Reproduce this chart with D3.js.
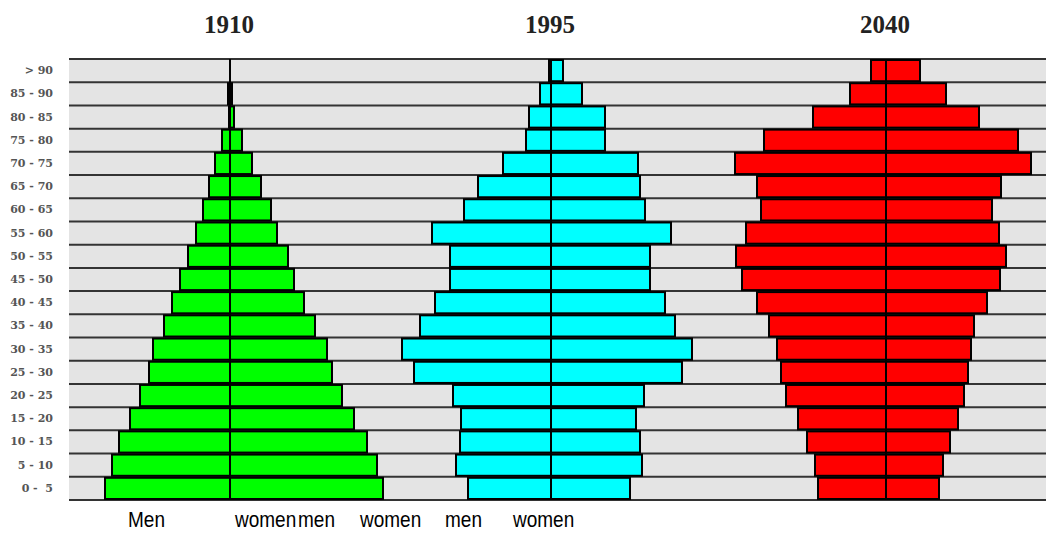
<!DOCTYPE html>
<html>
<head>
<meta charset="utf-8">
<script src="https://cdn.jsdelivr.net/npm/d3@7"></script>
<style>
    body { margin: 0; background: #fff; }
    svg { display: block; }
</style>
</head>
<body>
<div class="div-pyramids"></div>
<script>
// DATA (top row first)

var ages = ["> 90", "85 - 90", "80 - 85", "75 - 80", "70 - 75", "65 - 70", "60 - 65", "55 - 60", "50 - 55",
    "45 - 50", "40 - 45", "35 - 40", "30 - 35", "25 - 30", "20 - 25", "15 - 20", "10 - 15", "5 - 10", "0 -  5"];

var years = ["1910", "1995", "2040"];

var men1910   = [0, 2, 1, 8, 15, 21, 27, 34, 42, 50, 58, 66, 77, 81, 90, 100, 111, 118, 125];
var women1910 = [0, 2, 4, 12, 22, 31, 41, 47, 58, 64, 74, 85, 97, 102, 112, 124, 137, 147, 153];

var men1995   = [2, 11, 22, 25, 48, 73, 87, 119, 101, 101, 116, 131, 149, 137, 98, 90, 91, 95, 83];
var women1995 = [12, 31, 54, 54, 87, 89, 94, 120, 99, 99, 114, 124, 141, 131, 93, 85, 89, 91, 79];

var men2040   = [15, 36, 73, 122, 151, 129, 125, 140, 150, 144, 129, 117, 109, 105, 100, 88, 79, 71, 68];
var women2040 = [34, 60, 93, 132, 145, 115, 106, 113, 120, 114, 101, 88, 85, 82, 78, 72, 64, 57, 53];

var bottomLabels = ["Men", "women", "men", "women", "men", "women"];

// LAYOUT

var width = 1046;
var height = 542;
var top_y = 59, bottom_y = 500;
var bg_left = 69;
var centers = [230, 551, 886];
var colors = ["#00ff00", "#00ffff", "#ff0000"];
var label_x = [128, 235, 298, 360, 445, 513];

var series = [
    { year: years[0], men: men1910, women: women1910 },
    { year: years[1], men: men1995, women: women1995 },
    { year: years[2], men: men2040, women: women2040 }
];

function draw() {

    var svg = d3.select('.div-pyramids').append('svg')
        .attr('width', width)
        .attr('height', height);

    var y_scale = d3.scaleBand()
        .domain(ages)
        .range([top_y, bottom_y])
        .padding(0);

    // population units -> pixels
    var x_scale = d3.scaleLinear()
        .domain([0, 150])
        .range([0, 150]);

    // grey rows
    svg.append("rect")
        .attr("x", bg_left)
        .attr("y", top_y)
        .attr("width", width - bg_left)
        .attr("height", bottom_y - top_y)
        .attr("fill", "#e4e4e4");

    var lines_y = ages.map(a => y_scale(a)).concat([bottom_y]);
    svg.selectAll("line.row")
        .data(lines_y)
        .join("line")
        .attr("class", "row")
        .attr("x1", bg_left)
        .attr("x2", width)
        .attr("y1", d => d)
        .attr("y2", d => d)
        .attr("stroke", "#333")
        .attr("stroke-width", 2);

    // age labels
    svg.selectAll("text.age")
        .data(ages)
        .join("text")
        .attr("class", "age")
        .attr("x", 53)
        .attr("y", d => y_scale(d) + y_scale.bandwidth() / 2)
        .attr("text-anchor", "end")
        .attr("dominant-baseline", "central")
        .style("font-family", "'DejaVu Serif', serif")
        .style("font-weight", "bold")
        .style("font-size", "11px")
        .style("white-space", "pre")
        .style("fill", "#555")
        .text(d => d);

    series.forEach((s, i) => {
        var cx = centers[i];
        var g = svg.append("g").attr("class", "pyramid");

        var rows = ages.map((a, j) => ({ age: a, men: s.men[j], women: s.women[j] }));

        g.selectAll("rect.men")
            .data(rows.filter(d => d.men > 0))
            .join("rect")
            .attr("class", "men")
            .attr("x", d => cx - x_scale(d.men))
            .attr("y", d => y_scale(d.age) + 1)
            .attr("width", d => x_scale(d.men))
            .attr("height", y_scale.bandwidth() - 2)
            .attr("fill", colors[i])
            .attr("stroke", "#000")
            .attr("stroke-width", 2);

        g.selectAll("rect.women")
            .data(rows.filter(d => d.women > 0))
            .join("rect")
            .attr("class", "women")
            .attr("x", cx)
            .attr("y", d => y_scale(d.age) + 1)
            .attr("width", d => x_scale(d.women))
            .attr("height", y_scale.bandwidth() - 2)
            .attr("fill", colors[i])
            .attr("stroke", "#000")
            .attr("stroke-width", 2);

        g.append("line")
            .attr("x1", cx).attr("x2", cx)
            .attr("y1", top_y).attr("y2", bottom_y)
            .attr("stroke", "#000")
            .attr("stroke-width", 2);

        svg.append("text") // year title
            .attr("x", cx - 1)
            .attr("y", 33)
            .attr("text-anchor", "middle")
            .style("font-family", "'Liberation Serif', 'Times New Roman', serif")
            .style("font-weight", "bold")
            .style("font-size", "25px")
            .style("fill", "#222")
            .text(s.year);
    });

    // condensed sans labels under the chart (stretched vertically)
    svg.selectAll("text.sex")
        .data(bottomLabels)
        .join("text")
        .attr("class", "sex")
        .attr("transform", (d, i) => "translate(" + label_x[i] + ",527) scale(1,1.15)")
        .style("font-family", "'Liberation Sans', Arial, sans-serif")
        .style("font-size", "19px")
        .style("fill", "#000")
        .text(d => d);
}

draw();
</script>
</body>
</html>
